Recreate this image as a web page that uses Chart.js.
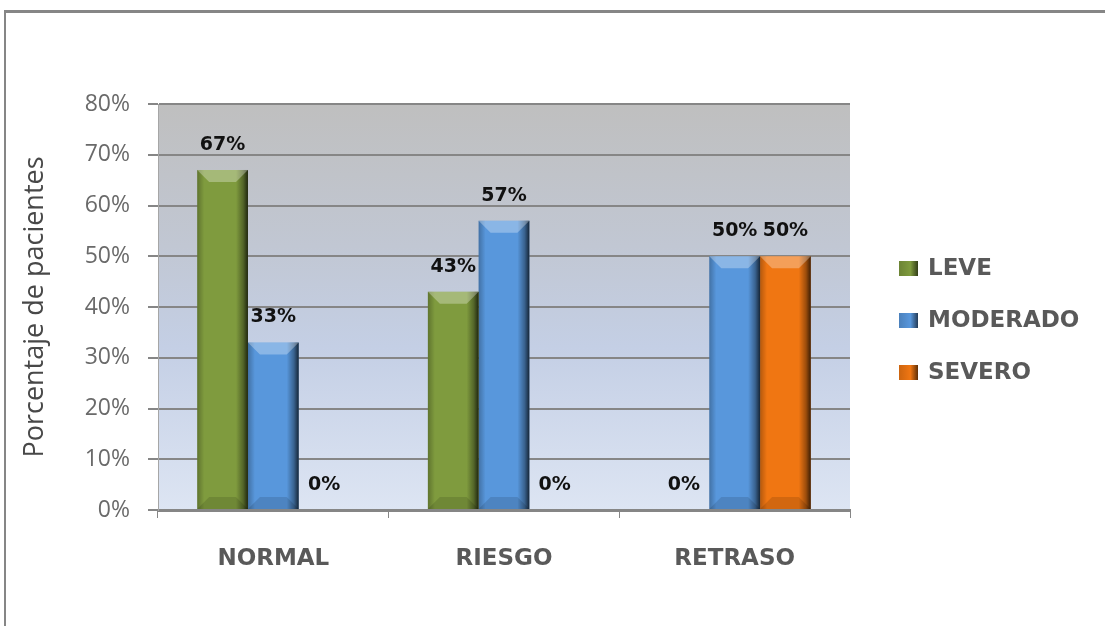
<!DOCTYPE html>
<html>
<head>
<meta charset="utf-8">
<script src="https://cdn.jsdelivr.net/npm/chart.js@4.4.1/dist/chart.umd.min.js"></script>
<style>
  html, body { margin: 0; padding: 0; background: #fff; overflow: hidden; }
  #wrap { position: relative; width: 1105px; height: 626px; overflow: hidden; }
  #frame { position: absolute; left: 4px; top: 10px; width: 1200px; height: 700px;
           border-top: 3px solid #868686; border-left: 2px solid #868686; }
  canvas { position: absolute; left: 0; top: 0; }
</style>
</head>
<body>
<div id="wrap">
  <div id="frame"></div>
  <canvas id="chart" width="1105" height="626"></canvas>
</div>
<script>
const categories = ["NORMAL", "RIESGO", "RETRASO"];
const seriesNames = ["LEVE", "MODERADO", "SEVERO"];
const leve = [67, 43, 0];
const moderado = [33, 57, 50];
const severo = [0, 0, 50];
const yTicks = [0, 10, 20, 30, 40, 50, 60, 70, 80];

const colors = ["#7f9b3e", "#5897dc", "#f07612"];

// plot area gradient (grey on top, pale blue at the bottom)
const plotBg = {
  id: "plotBg",
  beforeDraw(chart) {
    const { ctx, chartArea: a } = chart;
    const g = ctx.createLinearGradient(0, a.top, 0, a.bottom);
    g.addColorStop(0, "#bfbfbf");
    g.addColorStop(0.35, "#c1c7d3");
    g.addColorStop(0.6, "#c4cfe5");
    g.addColorStop(1, "#dde5f3");
    ctx.save();
    ctx.fillStyle = g;
    ctx.fillRect(a.left, a.top, a.right - a.left, a.bottom - a.top);
    ctx.restore();
  }
};

// bevel look on the bars + value labels
const bevel = {
  id: "bevel",
  afterDatasetsDraw(chart) {
    const ctx = chart.ctx;
    ctx.save();
    chart.data.datasets.forEach((ds, i) => {
      const meta = chart.getDatasetMeta(i);
      meta.data.forEach((bar, j) => {
        const h = bar.base - bar.y;
        const l = bar.x - bar.width / 2, r = bar.x + bar.width / 2;
        if (h > 2) {
          const b = Math.min(12, h / 2);
          // right dark edge
          let g = ctx.createLinearGradient(r - 12, 0, r, 0);
          g.addColorStop(0, "rgba(0,0,0,0)");
          g.addColorStop(0.6, "rgba(0,0,0,0.35)");
          g.addColorStop(1, "rgba(0,0,0,0.75)");
          ctx.fillStyle = g;
          ctx.fillRect(r - 12, bar.y, 12, h);
          // left soft edge
          g = ctx.createLinearGradient(l, 0, l + 7, 0);
          g.addColorStop(0, "rgba(0,0,0,0.25)");
          g.addColorStop(1, "rgba(0,0,0,0)");
          ctx.fillStyle = g;
          ctx.fillRect(l, bar.y, 7, h);
          // top bevel
          ctx.fillStyle = "rgba(255,255,255,0.3)";
          ctx.beginPath();
          ctx.moveTo(l, bar.y); ctx.lineTo(r, bar.y);
          ctx.lineTo(r - b, bar.y + b); ctx.lineTo(l + b, bar.y + b);
          ctx.closePath(); ctx.fill();
          // bottom bevel
          ctx.fillStyle = "rgba(0,0,0,0.12)";
          ctx.beginPath();
          ctx.moveTo(l, bar.base); ctx.lineTo(r, bar.base);
          ctx.lineTo(r - b, bar.base - b); ctx.lineTo(l + b, bar.base - b);
          ctx.closePath(); ctx.fill();
        }
        // value label
        ctx.fillStyle = "#111";
        ctx.font = "bold 19px 'DejaVu Sans'";
        ctx.textAlign = "center";
        ctx.textBaseline = "middle";
        ctx.fillText(ds.data[j] + "%", bar.x, bar.y - 25);
      });
    });
    ctx.restore();
  }
};

// legend on the right, one row per series
const sideLegend = {
  id: "sideLegend",
  afterDraw(chart) {
    const ctx = chart.ctx;
    const x = chart.chartArea.right + 49;
    ctx.save();
    ctx.font = "bold 23px 'DejaVu Sans'";
    ctx.textBaseline = "middle";
    ctx.textAlign = "left";
    chart.data.datasets.forEach((ds, i) => {
      const y = 269 + i * 52;
      ctx.fillStyle = ds.backgroundColor;
      ctx.fillRect(x, y - 8, 19, 15);
      const g = ctx.createLinearGradient(x, 0, x + 19, 0);
      g.addColorStop(0, "rgba(0,0,0,0.15)");
      g.addColorStop(0.6, "rgba(0,0,0,0)");
      g.addColorStop(1, "rgba(0,0,0,0.6)");
      ctx.fillStyle = g;
      ctx.fillRect(x, y - 8, 19, 15);
      ctx.fillStyle = "#595959";
      ctx.fillText(ds.label, x + 29, y);
    });
    ctx.restore();
  }
};

new Chart(document.getElementById("chart"), {
  type: "bar",
  data: {
    labels: categories,
    datasets: [
      { label: seriesNames[0], data: leve, backgroundColor: colors[0] },
      { label: seriesNames[1], data: moderado, backgroundColor: colors[1] },
      { label: seriesNames[2], data: severo, backgroundColor: colors[2] }
    ]
  },
  options: {
    responsive: false,
    animation: false,
    layout: { padding: { left: 16, top: 104, right: 255, bottom: 46 } },
    datasets: { bar: { categoryPercentage: 0.66, barPercentage: 1 } },
    scales: {
      x: {
        grid: { drawOnChartArea: false, drawTicks: true, tickLength: 8, color: "#868686", offset: true },
        border: { color: "#868686", width: 3 },
        ticks: { padding: 27, color: "#595959", font: { family: "DejaVu Sans", size: 23, weight: "bold" } },
        afterFit(s) { s.height = 70; }
      },
      y: {
        min: 0, max: 80,
        afterBuildTicks(s) { s.ticks = yTicks.map(v => ({ value: v })); },
        grid: { color: "#868686", lineWidth: 2, tickLength: 10 },
        border: { color: "#a6a6a6", width: 1 },
        ticks: { padding: 18, color: "#6a6a6a", font: { family: "Open Sans", size: 23 }, callback: v => v + "%" },
        title: { display: true, text: "Porcentaje de pacientes", color: "#484848",
                 font: { family: "Open Sans", size: 27 }, padding: { top: 3, bottom: 0 } },
        afterFit(s) { s.width = 142; }
      }
    },
    plugins: {
      legend: { display: false },
      tooltip: { enabled: false }
    }
  },
  plugins: [plotBg, bevel, sideLegend]
});
</script>
</body>
</html>
